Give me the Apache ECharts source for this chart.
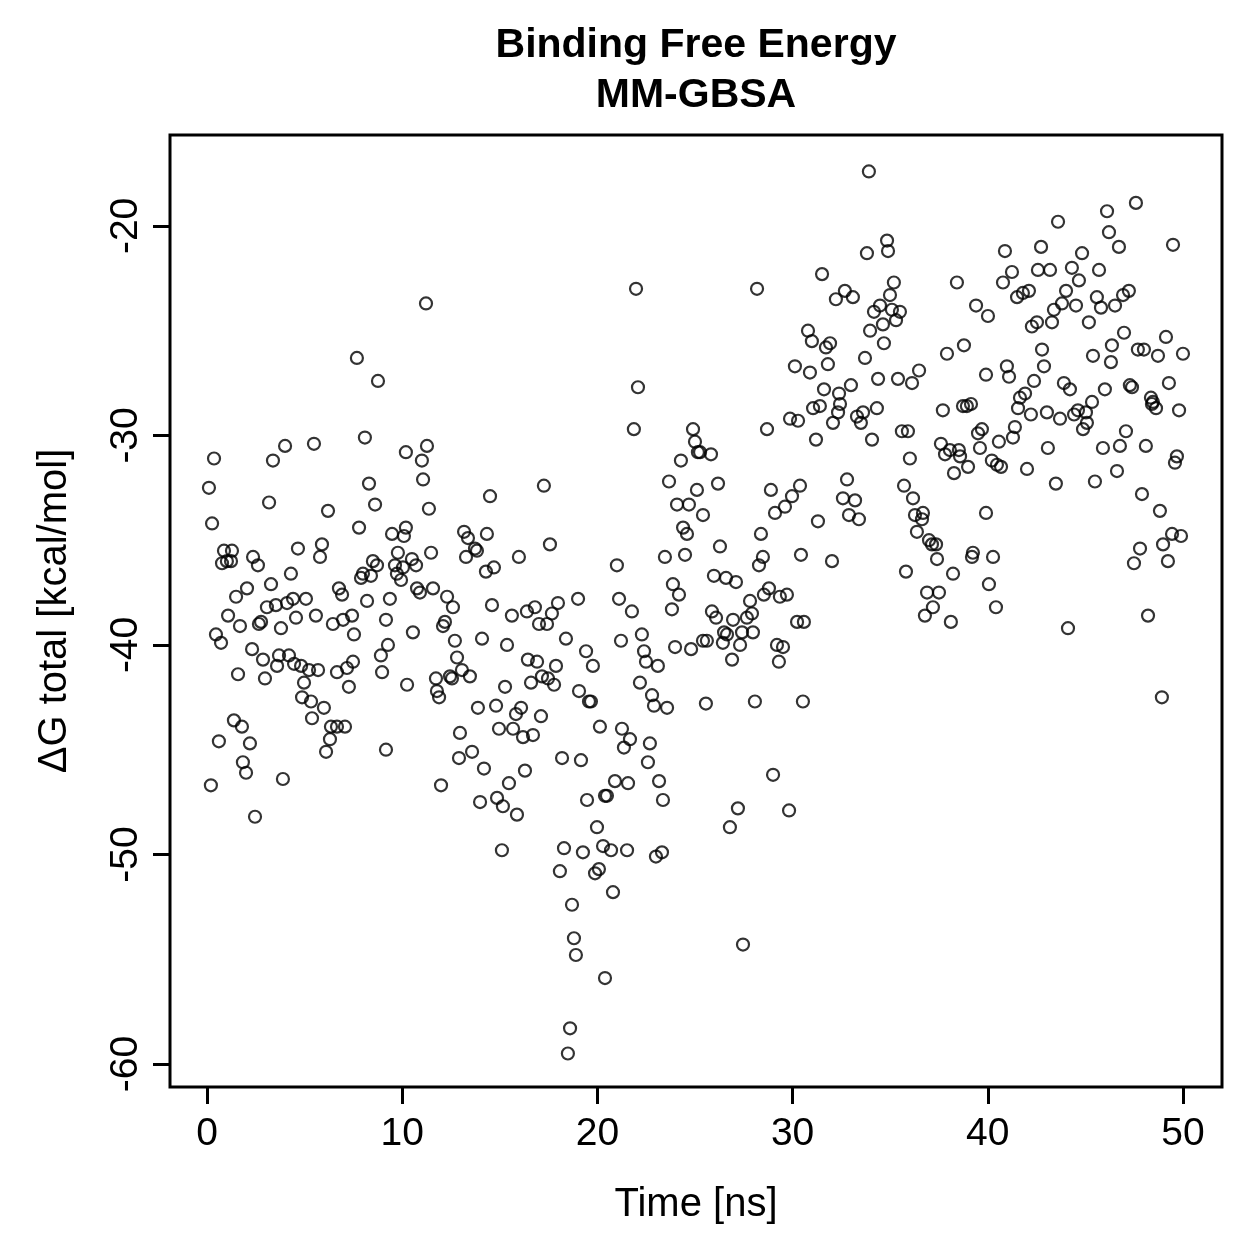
<!DOCTYPE html>
<html>
<head>
<meta charset="utf-8">
<script src="https://cdn.jsdelivr.net/npm/echarts@6/dist/echarts.min.js"></script>
<style>
  html, body { margin: 0; padding: 0; background: #fff; }
  #chart { width: 1259px; height: 1259px; }
</style>
</head>
<body>
<div id="chart"></div>
<script>
// [time ns, dG kcal/mol] in 10 ns blocks
const block0to10 = [
  [7.68,-26.3],[8.76,-27.4],[8.09,-30.1],[4.00,-30.5],[3.38,-31.2],[5.48,-30.4],[0.36,-31.1],[0.10,-32.5],
  [3.18,-33.2],[8.30,-32.3],[8.61,-33.3],[6.20,-33.6],[0.26,-34.2],[7.79,-34.4],[0.87,-35.5],[1.28,-35.5],
  [0.77,-36.1],[1.02,-36.0],[1.23,-36.0],[2.36,-35.8],[2.61,-36.2],[4.66,-35.4],[5.89,-35.2],[5.79,-35.8],
  [4.30,-36.6],[3.28,-37.1],[2.05,-37.3],[6.76,-37.3],[8.50,-36.0],[8.71,-36.2],[7.99,-36.6],[7.89,-36.8],
  [8.40,-36.7],[1.49,-37.7],[1.08,-38.6],[1.69,-39.1],[2.66,-39.0],[2.77,-38.9],[3.07,-38.2],[3.53,-38.1],
  [4.10,-38.0],[4.41,-37.8],[5.07,-37.8],[4.56,-38.7],[3.79,-39.2],[5.58,-38.6],[6.92,-37.6],[6.45,-39.0],
  [6.97,-38.8],[7.43,-38.6],[8.20,-37.9],[9.37,-37.8],[9.17,-38.8],[7.53,-39.5],[9.27,-40.0],[8.91,-40.5],
  [8.97,-41.3],[0.46,-39.5],[0.72,-39.9],[2.31,-40.2],[2.87,-40.7],[3.69,-40.5],[4.20,-40.5],[3.59,-41.0],
  [4.46,-40.9],[4.82,-41.0],[5.23,-41.2],[5.69,-41.2],[1.59,-41.4],[2.97,-41.6],[4.97,-41.8],[6.66,-41.3],
  [7.17,-41.1],[7.48,-40.8],[7.27,-42.0],[4.87,-42.5],[5.33,-42.7],[5.99,-43.0],[5.38,-43.5],[1.38,-43.6],
  [1.79,-43.9],[0.61,-44.6],[2.20,-44.7],[6.35,-43.9],[6.66,-43.9],[7.07,-43.9],[6.30,-44.5],[6.10,-45.1],
  [9.17,-45.0],[1.84,-45.6],[2.00,-46.1],[0.20,-46.7],[3.89,-46.4],[2.46,-48.2]
];

const block10to20 = [
  [11.22,-23.7],[10.19,-30.8],[11.27,-30.5],[11.01,-31.2],[11.07,-32.1],[11.37,-33.5],[17.26,-32.4],[14.50,-32.9],
  [9.48,-34.7],[10.19,-34.4],[10.09,-34.8],[9.78,-35.6],[11.48,-35.6],[10.50,-35.9],[10.71,-36.2],[9.63,-36.2],
  [9.73,-36.6],[9.94,-36.9],[10.04,-36.3],[13.17,-34.6],[13.37,-34.9],[14.34,-34.7],[13.73,-35.4],[13.83,-35.5],
  [13.27,-35.8],[14.70,-36.3],[14.29,-36.5],[15.98,-35.8],[17.57,-35.2],[10.76,-37.3],[10.91,-37.5],[11.58,-37.3],
  [12.30,-37.7],[12.60,-38.2],[12.19,-38.9],[12.09,-39.1],[10.55,-39.4],[14.60,-38.1],[15.62,-38.6],[16.39,-38.4],
  [16.80,-38.2],[17.98,-38.0],[19.01,-37.8],[17.67,-38.5],[17.01,-39.0],[17.42,-39.0],[12.70,-39.8],[14.09,-39.7],
  [15.37,-40.0],[18.39,-39.7],[19.42,-40.3],[19.77,-41.0],[12.81,-40.6],[13.06,-41.2],[13.47,-41.5],[16.44,-40.7],
  [16.91,-40.8],[17.88,-41.0],[10.25,-41.9],[11.73,-41.6],[12.45,-41.5],[12.55,-41.6],[16.60,-41.8],[17.16,-41.5],
  [17.47,-41.6],[11.78,-42.2],[11.89,-42.5],[15.27,-42.0],[17.78,-41.9],[19.06,-42.2],[19.57,-42.7],[19.67,-42.7],
  [20.13,-43.9],[13.88,-43.0],[14.81,-42.9],[16.09,-43.0],[15.83,-43.3],[17.11,-43.4],[14.96,-44.0],[15.68,-44.0],
  [16.19,-44.4],[16.70,-44.3],[12.96,-44.2],[12.91,-45.4],[13.58,-45.1],[14.19,-45.9],[16.29,-46.0],[15.47,-46.6],
  [11.99,-46.7],[13.99,-47.5],[14.86,-47.3],[15.16,-47.7],[15.88,-48.1],[18.19,-45.4],[19.16,-45.5],[20.39,-47.2],
  [20.49,-47.2],[19.47,-47.4],[19.98,-48.7],[15.11,-49.8],[18.29,-49.7],[19.26,-49.9],[20.29,-49.6],[18.08,-50.8],
  [19.88,-50.9],[20.08,-50.7],[18.70,-52.4],[18.80,-54.0],[18.90,-54.8],[20.39,-55.9],[18.60,-58.3],[18.49,-59.5]
];

const block20to30 = [
  [21.98,-23.0],[28.18,-23.0],[22.08,-27.7],[21.87,-29.7],[24.90,-29.7],[25.00,-30.3],[25.15,-30.8],[25.26,-30.8],
  [25.82,-30.9],[24.28,-31.2],[28.69,-29.7],[29.87,-29.2],[30.28,-29.3],[23.67,-32.2],[25.10,-32.6],[26.18,-32.3],
  [24.08,-33.3],[24.69,-33.3],[25.41,-33.8],[28.89,-32.6],[30.38,-32.4],[29.97,-32.9],[29.61,-33.4],[29.10,-33.7],
  [24.39,-34.4],[24.59,-34.7],[28.38,-34.7],[26.28,-35.3],[23.46,-35.8],[24.49,-35.7],[21.00,-36.2],[28.48,-35.8],
  [28.28,-36.2],[30.43,-35.7],[25.97,-36.7],[26.59,-36.8],[27.10,-37.0],[23.87,-37.1],[24.18,-37.6],[21.11,-37.8],
  [21.77,-38.4],[23.82,-38.3],[25.87,-38.4],[26.08,-38.7],[27.82,-37.9],[28.53,-37.6],[28.79,-37.3],[29.35,-37.7],
  [29.71,-37.6],[26.95,-38.8],[27.66,-38.7],[27.92,-38.5],[30.23,-38.9],[30.58,-38.9],[26.49,-39.4],[26.64,-39.5],
  [26.43,-39.9],[27.31,-40.0],[27.41,-39.4],[27.97,-39.4],[25.41,-39.8],[25.61,-39.8],[26.90,-40.7],[29.20,-40.0],
  [29.51,-40.1],[29.30,-40.8],[21.21,-39.8],[22.28,-39.5],[22.39,-40.3],[22.49,-40.8],[23.10,-41.0],[23.98,-40.1],
  [24.80,-40.2],[22.18,-41.8],[22.80,-42.4],[22.90,-42.9],[23.57,-43.0],[25.56,-42.8],[28.07,-42.7],[30.53,-42.7],
  [21.26,-44.0],[21.67,-44.5],[21.36,-44.9],[22.69,-44.7],[22.59,-45.6],[20.90,-46.5],[21.57,-46.6],[23.16,-46.5],
  [23.36,-47.4],[29.00,-46.2],[27.20,-47.8],[29.82,-47.9],[26.79,-48.7],[20.70,-49.8],[21.52,-49.8],[23.00,-50.1],
  [23.31,-49.9],[20.80,-51.8],[27.46,-54.3]
];

const block30to40 = [
  [33.91,-17.4],[34.84,-20.7],[34.89,-21.2],[33.81,-21.3],[31.51,-22.3],[38.42,-22.7],[35.19,-22.7],[34.99,-23.3],
  [32.68,-23.1],[32.22,-23.5],[33.09,-23.4],[34.48,-23.8],[34.17,-24.1],[35.09,-24.0],[35.50,-24.1],[35.30,-24.5],
  [34.63,-24.7],[33.97,-25.0],[39.40,-23.8],[40.01,-24.3],[30.79,-25.0],[30.99,-25.5],[31.71,-25.8],[31.92,-25.6],
  [34.68,-25.6],[33.71,-26.3],[37.91,-26.1],[38.78,-25.7],[30.12,-26.7],[30.89,-27.0],[31.81,-26.6],[31.61,-27.8],
  [32.38,-28.0],[32.99,-27.6],[34.38,-27.3],[35.40,-27.3],[36.12,-27.5],[36.48,-26.9],[39.91,-27.1],[31.05,-28.7],
  [31.40,-28.6],[32.43,-28.5],[32.33,-28.9],[32.07,-29.4],[33.30,-29.1],[33.61,-28.9],[33.50,-29.4],[34.32,-28.7],
  [31.20,-30.2],[34.07,-30.2],[37.70,-28.8],[38.73,-28.6],[38.93,-28.6],[39.14,-28.5],[35.60,-29.8],[35.91,-29.8],
  [36.01,-31.1],[37.60,-30.4],[37.81,-30.9],[38.06,-30.7],[38.52,-30.7],[38.58,-31.0],[38.99,-31.5],[38.27,-31.8],
  [39.50,-29.9],[39.70,-29.7],[39.60,-30.6],[40.57,-30.3],[40.21,-31.2],[40.47,-31.4],[40.68,-31.5],[32.79,-32.1],
  [32.58,-33.0],[33.20,-33.1],[32.89,-33.8],[33.40,-34.0],[31.30,-34.1],[35.71,-32.4],[36.17,-33.0],[36.27,-33.8],
  [36.68,-33.7],[36.63,-34.0],[36.37,-34.6],[36.99,-35.0],[37.14,-35.2],[37.35,-35.2],[37.40,-35.9],[39.91,-33.7],
  [32.02,-36.0],[35.81,-36.5],[38.22,-36.6],[39.24,-35.6],[39.19,-35.8],[40.27,-35.8],[40.06,-37.1],[36.89,-37.5],
  [37.50,-37.5],[37.19,-38.2],[36.78,-38.6],[38.11,-38.9],[40.42,-38.2]
];

const block40to50 = [
  [46.11,-19.3],[47.59,-18.9],[43.60,-19.8],[46.21,-20.3],[46.72,-21.0],[49.49,-20.9],[42.73,-21.0],[40.88,-21.2],
  [44.83,-21.3],[41.24,-22.2],[40.78,-22.7],[42.57,-22.1],[43.19,-22.1],[44.31,-22.0],[44.67,-22.6],[45.70,-22.1],
  [41.50,-23.4],[41.80,-23.2],[42.11,-23.1],[44.01,-23.1],[43.80,-23.7],[43.39,-24.0],[44.52,-23.8],[45.59,-23.4],
  [45.80,-23.9],[46.52,-23.8],[46.93,-23.3],[47.23,-23.1],[42.26,-24.8],[42.52,-24.6],[43.29,-24.6],[45.18,-24.6],
  [46.98,-25.1],[49.13,-25.3],[46.36,-25.7],[47.69,-25.9],[48.00,-25.9],[48.72,-26.2],[50.00,-26.1],[45.39,-26.2],
  [46.31,-26.5],[42.78,-25.9],[40.98,-26.7],[41.09,-27.2],[42.88,-26.7],[42.37,-27.4],[43.90,-27.5],[44.21,-27.8],
  [46.00,-27.8],[47.28,-27.6],[47.39,-27.7],[49.28,-27.5],[41.65,-28.2],[41.91,-28.0],[41.55,-28.7],[42.21,-29.0],
  [43.03,-28.9],[43.70,-29.2],[44.42,-29.0],[44.62,-28.8],[45.03,-28.9],[45.34,-28.4],[45.08,-29.4],[44.88,-29.7],
  [47.08,-29.8],[48.36,-28.2],[48.46,-28.4],[48.41,-28.5],[48.62,-28.7],[49.80,-28.8],[41.39,-29.6],[41.29,-30.1],
  [43.08,-30.6],[45.90,-30.6],[46.77,-30.5],[48.10,-30.5],[49.69,-31.0],[49.59,-31.3],[42.01,-31.6],[43.49,-32.3],
  [45.49,-32.2],[46.62,-31.7],[47.90,-32.8],[48.82,-33.6],[49.44,-34.7],[49.90,-34.8],[48.98,-35.2],[47.80,-35.4],
  [47.49,-36.1],[49.23,-36.0],[44.11,-39.2],[48.21,-38.6],[48.92,-42.5]
];

const xTicks = [0, 10, 20, 30, 40, 50];
const yTicks = [-60, -50, -40, -30, -20];

const points = [].concat(block0to10, block10to20, block20to30, block30to40, block40to50);

const chart = echarts.init(document.getElementById('chart'));
const font = '"Liberation Sans", Arial, Helvetica, sans-serif';

chart.setOption({
  animation: false,
  backgroundColor: '#fff',
  title: {
    text: 'Binding Free Energy\nMM-GBSA',
    left: 696,
    top: 21,
    textAlign: 'center',
    padding: 0,
    textStyle: {
      fontFamily: font,
      fontSize: 41,
      fontWeight: 'bold',
      color: '#000',
      lineHeight: 50
    }
  },
  grid: {
    left: 170,
    top: 135,
    right: 37,
    bottom: 172,
    show: true,
    borderColor: '#000',
    borderWidth: 3,
    backgroundColor: 'transparent'
  },
  xAxis: {
    type: 'value',
    min: -1.895,
    max: 52.0,
    name: 'Time [ns]',
    nameLocation: 'middle',
    nameGap: 98,
    nameTextStyle: { fontFamily: font, fontSize: 40, color: '#000' },
    axisLine: { show: false, onZero: false },
    splitLine: { show: false },
    axisTick: {
      show: true,
      inside: false,
      length: 17,
      customValues: xTicks,
      lineStyle: { color: '#000', width: 3 }
    },
    axisLabel: {
      customValues: xTicks,
      margin: 28,
      fontFamily: font,
      fontSize: 39,
      color: '#000'
    }
  },
  yAxis: {
    type: 'value',
    min: -61.1,
    max: -15.66,
    name: 'ΔG total [kcal/mol]',
    nameLocation: 'middle',
    nameGap: 95,
    nameTextStyle: { fontFamily: font, fontSize: 40, color: '#000' },
    axisLine: { show: false, onZero: false },
    splitLine: { show: false },
    axisTick: {
      show: true,
      inside: false,
      length: 17,
      customValues: yTicks,
      lineStyle: { color: '#000', width: 3 }
    },
    axisLabel: {
      customValues: yTicks,
      rotate: 90,
      margin: 24,
      fontFamily: font,
      fontSize: 39,
      color: '#000'
    }
  },
  series: [
    {
      type: 'scatter',
      data: points,
      symbol: 'circle',
      symbolSize: 12,
      itemStyle: {
        color: 'rgba(0,0,0,0)',
        borderColor: '#000',
        borderWidth: 2.2
      },
      emphasis: { disabled: true }
    }
  ]
});
</script>
</body>
</html>
